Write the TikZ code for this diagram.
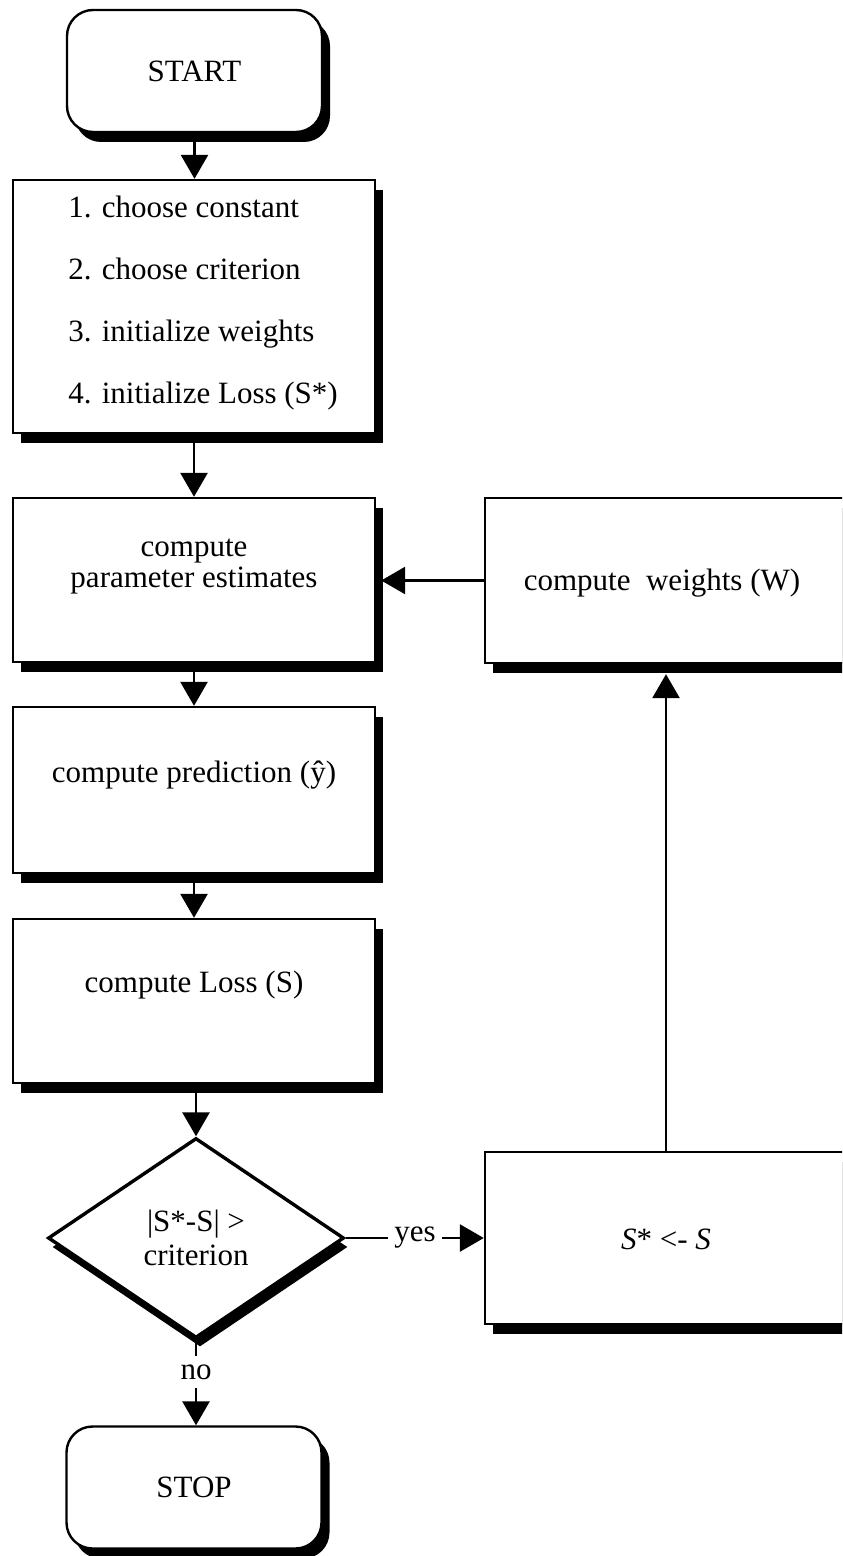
\documentclass[tikz,border=0pt]{standalone}
\usepackage{fontspec}
\setmainfont{Liberation Serif}
\usetikzlibrary{arrows.meta, shapes.geometric, shadows}
\tikzset{
    block/.style={draw, line width=1.2pt, fill=white, minimum width=181pt, inner sep=0pt,
        drop shadow={shadow xshift=4pt, shadow yshift=-5pt, fill=black, opacity=1}},
    terminal/.style={block, rounded corners=13pt, minimum width=127.5pt, minimum height=61pt},
    decision/.style={diamond, draw, line width=1.7pt, fill=white, inner sep=0pt, align=center,
        minimum width=148pt, minimum height=100pt,
        drop shadow={shadow xshift=2pt, shadow yshift=-4.5pt, fill=black, opacity=1}},
    flow/.style={-{Triangle[width=13.5pt, length=12pt]}, line width=1.4pt},
    link/.style={line width=1.4pt}
}

\begin{document}
\begin{tikzpicture}[x=0.5pt, y=-0.5pt, font=\fontsize{15.5}{17}\selectfont]
    \clip (0,0) rectangle (842,1556);

    % Основной столбец
    \node[terminal] (start) at (194.5,71) {START};
    \node[block, minimum height=126.5pt] (setup) at (194,306.5) {};
    \node[align=left, font=\fontsize{15.5}{31}\selectfont] (setuptext) at (203,303.5)
        {1. choose constant\\2. choose criterion\\3. initialize weights\\4. initialize Loss (S*)};
    \node[block, minimum height=82pt] (param) at (194,580) {};
    \node[align=center, font=\fontsize{15.5}{15.5}\selectfont] (paramtext) at (194,567)
        {compute\\parameter estimates};
    \node[block, minimum height=83pt] (pred) at (194,790) {};
    \node (predtext) at (194,775) {compute prediction (ŷ)};
    \node[block, minimum height=82pt] (loss) at (194,1001) {};
    \node (losstext) at (194,985) {compute Loss (S)};
    \node[decision] (test) at (196,1238) {|S*-S| >\\criterion};
    \node[inner sep=4pt] (no) at (196,1372) {no};
    \node[terminal] (stop) at (194,1487.5) {STOP};

    % Цикл справа
    \node[block, minimum width=187.5pt, minimum height=82.5pt] (weights) at (672.5,580.5) {};
    \node (weightstext) at (662,583) {compute\ \ weights (W)};
    \node[block, minimum width=187.5pt, minimum height=86pt] (update) at (672.5,1238) {};
    \node (updatetext) at (666,1239) {\textit{S}* <- \textit{S}};
    \node[inner sep=3pt] (yes) at (415,1238) {yes};

    % Стрелки
    \draw[flow] (start.south) -- (start.south |- setup.north);
    \draw[flow] (setup.south) -- (setup.south |- param.north);
    \draw[flow] (param.south) -- (param.south |- pred.north);
    \draw[flow] (pred.south) -- (pred.south |- loss.north);
    \draw[flow] (loss.south -| test.north) -- (test.north);
    \draw[link] (test.south) -- (no.north);
    \draw[flow] (no.south) -- (no.south |- stop.north);
    \draw[link] (test.east) -- (yes.west);
    \draw[flow] (yes.east) -- (update.west);
    \draw[flow, shorten >=5pt] (updatetext |- update.north) -- (updatetext |- weights.south);
    \draw[flow, shorten >=2.5pt] (weights.west) -- (param.east |- weights.west);
\end{tikzpicture}
\end{document}
